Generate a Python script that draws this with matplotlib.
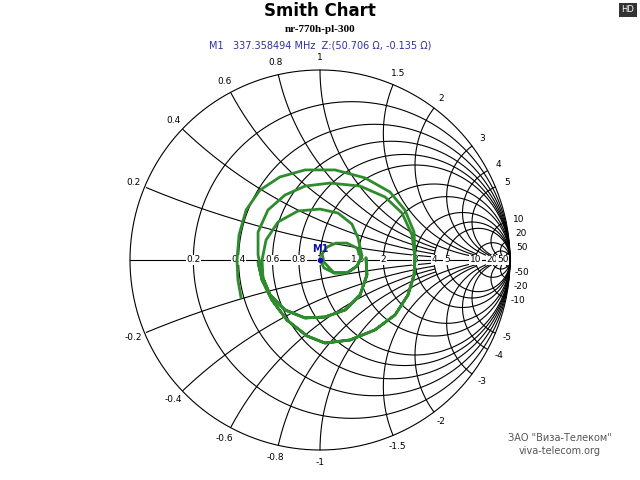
import numpy as np
import matplotlib.pyplot as plt

# grid values
r_vals = [0.2, 0.4, 0.6, 0.8, 1, 1.5, 2, 3, 4, 5, 10, 20, 50]
x_vals = [0.2, 0.4, 0.6, 0.8, 1, 1.5, 2, 3, 4, 5, 10, 20, 50]

# trace, as reflection coefficient (re, im)
trace_re = [0.000, 0.021, 0.074, 0.142, 0.195, 0.216, 0.195, 0.142, 0.084, 0.037, 0.011, 0.021,
            0.074, 0.142, 0.195, 0.221,
            0.200, 0.168, 0.095, 0.000, -0.116, -0.221, -0.284, -0.305, -0.300, -0.263, -0.184,
            -0.079, 0.026, 0.132, 0.211, 0.247, 0.242,
            0.247, 0.211, 0.132, 0.026, -0.079, -0.184, -0.263, -0.300, -0.326,
            -0.326, -0.274, -0.184, -0.079, 0.053, 0.211, 0.342, 0.432, 0.484, 0.500, 0.495,
            0.463, 0.395, 0.289, 0.158, 0.026, -0.068, -0.174, -0.253, -0.305, -0.326,
            -0.305, -0.253, -0.174, -0.068, 0.026, 0.158, 0.289, 0.395, 0.463, 0.495, 0.500,
            0.495, 0.447, 0.368, 0.237, 0.079, -0.079, -0.211, -0.316, -0.389, -0.426,
            -0.437, -0.432, -0.416]
trace_im = [0.000, -0.042, -0.068, -0.068, -0.032, 0.011, 0.063, 0.089, 0.089, 0.068, 0.032, -0.011,
            -0.068, -0.068, -0.032, 0.021,
            0.116, 0.189, 0.247, 0.268, 0.258, 0.200, 0.105, 0.000, -0.095, -0.184, -0.263,
            -0.305, -0.300, -0.263, -0.184, -0.079, 0.011,
            -0.079, -0.184, -0.263, -0.300, -0.305, -0.263, -0.184, -0.095, 0.026,
            0.147, 0.263, 0.342, 0.389, 0.405, 0.389, 0.332, 0.247, 0.132, 0.011, -0.079,
            -0.184, -0.289, -0.368, -0.421, -0.437, -0.400, -0.316, -0.211, -0.105, -0.011,
            -0.105, -0.211, -0.316, -0.400, -0.437, -0.421, -0.368, -0.289, -0.184, -0.079, 0.011,
            0.147, 0.263, 0.358, 0.432, 0.474, 0.474, 0.437, 0.368, 0.263, 0.132,
            0.000, -0.105, -0.195]

marker_re, marker_im = 0.0, 0.0

fig = plt.figure(figsize=(6.4, 4.8), dpi=100)
ax = fig.add_axes([20 / 640, 0, 600 / 640, 440 / 480])
ax.set_xlim(-300 / 190, 300 / 190)
ax.set_ylim(-220 / 190, 220 / 190)
ax.set_aspect('equal')
ax.axis('off')

t = np.linspace(0, 2 * np.pi, 1441)
gl = dict(color='black', lw=0.8, zorder=1)


def z_of(px, py):
    g = px + 1j * py
    return (1 + g) / (1 - g + 1e-12)


# outer circle and real axis
ax.plot(np.cos(t), np.sin(t), **gl)
ax.plot([-1, 1], [0, 0], **gl)

# resistance circles
for r in r_vals:
    c, rad = r / (1 + r), 1 / (1 + r)
    ax.plot(c + rad * np.cos(t), rad * np.sin(t), **gl)

# label angles for the crowded large reactances (degrees)
crowd = {20: 7.5, 50: 3.5}

# reactance arcs (clipped to unit circle, small x stop at larger r)
for x in x_vals:
    rmax = 4 if x < 1 else (10 if x <= 2 else 1e9)
    for s in (1, -1):
        xv = s * x
        cx, cy, rad = 1.0, 1.0 / xv, 1.0 / abs(xv)
        px = cx + rad * np.cos(t)
        py = cy + rad * np.sin(t)
        zz = z_of(px, py)
        m = (px ** 2 + py ** 2 <= 1.0001) & (zz.real <= rmax)
        px = np.where(m, px, np.nan)
        py = np.where(m, py, np.nan)
        ax.plot(px, py, **gl)
        g = complex(xv ** 2 - 1, 2 * xv) / (xv ** 2 + 1)
        ang = np.angle(g)
        if x in crowd:
            ang = s * np.radians(crowd[x])
        ax.text(1.065 * np.cos(ang), 1.065 * np.sin(ang), '%g' % xv, fontsize=6.5,
                ha='center', va='center')

# resistance labels on the axis
for r in r_vals:
    gx = (r - 1) / (r + 1)
    ax.text(gx, 0, '%g' % r, fontsize=6.5, ha='center', va='center', zorder=3,
            bbox=dict(boxstyle='square,pad=0.05', fc='white', ec='none'))

ax.plot(trace_re, trace_im, color='#2e8b2e', lw=2, zorder=4, solid_joinstyle='round')
ax.plot([marker_re], [marker_im], 'o', color='#1010c0', ms=3, zorder=5)
ax.text(marker_re, marker_im + 0.06, 'M1', color='#1010a0', fontsize=7, fontweight='bold',
        ha='center', va='center', zorder=5)

fig.text(0.5, 1 - 11 / 480, 'Smith Chart', ha='center', va='center', fontsize=12, fontweight='bold')
fig.text(0.5, 1 - 29 / 480, 'nr-770h-pl-300', ha='center', va='center', fontsize=8,
         fontweight='bold', family='Liberation Serif')
fig.text(0.5, 1 - 46 / 480, 'M1   337.358494 MHz  Z:(50.706 \u03a9, -0.135 \u03a9)', ha='center',
         va='center', fontsize=7, color='#3030a0')
fig.text(628 / 640, 1 - 10 / 480, 'HD', ha='center', va='center', fontsize=6, color='white',
         bbox=dict(boxstyle='square,pad=0.3', fc='#333333', ec='none'))
fig.text(560 / 640, 1 - 438 / 480, 'ЗАО "Виза-Телеком"', ha='center', va='center', fontsize=7,
         color='#555555')
fig.text(560 / 640, 1 - 451 / 480, 'viva-telecom.org', ha='center', va='center', fontsize=7,
         color='#555555')

fig.savefig('out.png', dpi=100)
